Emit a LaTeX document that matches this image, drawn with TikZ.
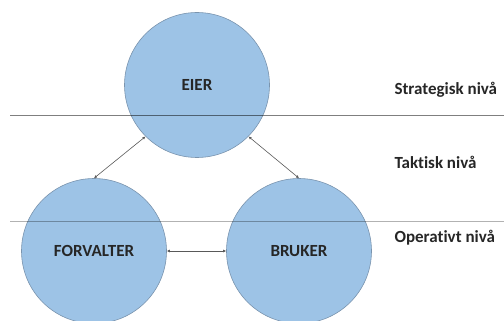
\documentclass[tikz,border=0pt]{standalone}
\usepackage{fontspec}
\setmainfont{Carlito}[Ligatures={NoCommon}]
\usetikzlibrary{arrows.meta}
\definecolor{rolefill}{HTML}{9DC3E6}
\definecolor{roleedge}{HTML}{7A94AE}
\tikzstyle{role} = [circle, draw=roleedge, fill=rolefill, line width=0.6pt,
    minimum size=145pt, inner sep=0pt, font=\fontsize{17}{20}\selectfont\bfseries,
    text=black!85]
\tikzstyle{level} = [anchor=west, font=\fontsize{17}{20}\selectfont\bfseries, text=black!85]
\tikzstyle{link} = [draw=black!65, line width=0.6pt, {Latex[length=3pt,width=3pt]}-{Latex[length=3pt,width=3pt]}]
\tikzstyle{divider} = [draw=black, line width=1pt]

\begin{document}
\begin{tikzpicture}[x=1pt, y=-1pt]
	\useasboundingbox (0,0) rectangle (504,321);

		\node [role] (eier) at (197,85) {EIER};
		\node [role] (forvalter) at (94,251) {FORVALTER};
		\node [role] (bruker) at (299,251) {BRUKER};

		% skillelinjer mellom nivåene
		\coordinate (d1a) at (10,116);
		\coordinate (d1b) at (504,116);
		\coordinate (d2a) at (10,221);
		\coordinate (d2b) at (504,221);
		\path [divider, opacity=0.5] (d1a) -- (d1b);
		\path [divider, opacity=0.3] (d2a) -- (d2b);

		\node [level] (strategisk) at (391,90) {Strategisk nivå};
		\node [level] (taktisk) at (391,162) {Taktisk nivå};
		\node [level] (operativt) at (391,238) {Operativt nivå};

		\path [link] (eier.225) -- (forvalter.north);
		\path [link] (eier.-45) -- (bruker.north);
		\path [link] (forvalter) -- (bruker);
	\end{tikzpicture}
\end{document}
